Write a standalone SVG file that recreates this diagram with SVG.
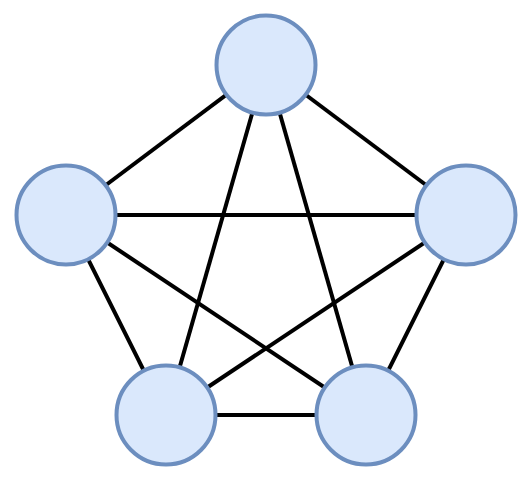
<svg xmlns="http://www.w3.org/2000/svg" width="530" height="480" viewBox="0 0 530 480">
<style>
.node{fill:#dae8fc;stroke:#6c8ebf;stroke-width:4}
.edge{stroke:#000;stroke-width:4;fill:none}
</style>
<rect width="530" height="480" fill="#fff"/>
<g id="connectors">
<line class="edge" x1="266" y1="65" x2="66" y2="215"/>
<line class="edge" x1="266" y1="65" x2="466" y2="215"/>
<line class="edge" x1="266" y1="65" x2="166" y2="415"/>
<line class="edge" x1="266" y1="65" x2="366" y2="415"/>
<line class="edge" x1="66" y1="215" x2="466" y2="215"/>
<line class="edge" x1="66" y1="215" x2="166" y2="415"/>
<line class="edge" x1="66" y1="215" x2="366" y2="415"/>
<line class="edge" x1="466" y1="215" x2="166" y2="415"/>
<line class="edge" x1="466" y1="215" x2="366" y2="415"/>
<line class="edge" x1="166" y1="415" x2="366" y2="415"/>
</g>
<g id="n-top"><circle class="node" cx="266" cy="65" r="49.5"/></g>
<g id="n-left"><circle class="node" cx="66" cy="215" r="49.5"/></g>
<g id="n-right"><circle class="node" cx="466" cy="215" r="49.5"/></g>
<g id="n-bottom-left"><circle class="node" cx="166" cy="415" r="49.5"/></g>
<g id="n-bottom-right"><circle class="node" cx="366" cy="415" r="49.5"/></g>
</svg>
